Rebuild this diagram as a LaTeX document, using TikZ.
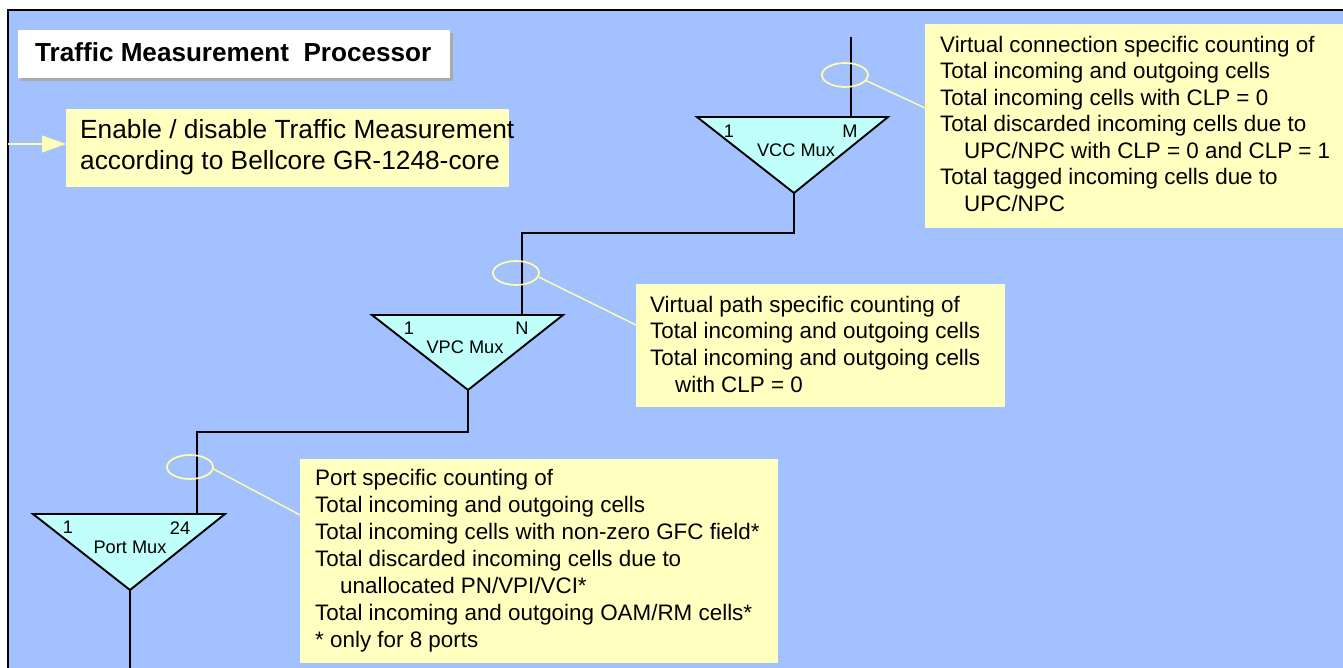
\documentclass[tikz,border=0pt]{standalone}
\usepackage{fontspec}
\setmainfont{Liberation Sans}
\usetikzlibrary{arrows.meta,shapes.geometric}
\definecolor{panelblue}{RGB}{164,193,255}
\definecolor{notefill}{RGB}{255,255,192}
\definecolor{muxfill}{RGB}{192,255,250}
\definecolor{callout}{RGB}{255,255,170}
\definecolor{shadowgray}{RGB}{170,170,170}
\tikzset{
  notebox/.style={fill=notefill, draw=none, anchor=north west, inner sep=0pt},
  notetext/.style={anchor=base west, inner sep=0pt, font=\fontsize{22.4}{26}\selectfont},
  bigtext/.style={anchor=base west, inner sep=0pt, font=\fontsize{26.3}{30}\selectfont},
  muxshape/.style={fill=muxfill, draw=black, line width=1.9pt, line join=miter},
  muxlabel/.style={inner sep=0pt, font=\fontsize{18.2}{20}\selectfont},
  wire/.style={draw=black, line width=1.9pt},
  ring/.style={draw=callout, line width=1.7pt},
  leader/.style={draw=callout, line width=1.4pt},
}
\begin{document}
\begin{tikzpicture}[x=1pt, y=-1pt]
\useasboundingbox (0,0) rectangle (1343,668);
% page and panel
\fill[white] (0,0) rectangle (1343,668);
\fill[panelblue] (8,10) rectangle (1343,668);
\draw[line width=2pt] (8,668) -- (8,10) -- (1343,10);

% title box with shadow
\fill[shadowgray] (21,33) rectangle (453,81);
\node[fill=white, anchor=north west, minimum width=432pt, minimum height=48pt, inner sep=0pt] (title) at (18,30) {};
\node[anchor=base west, inner sep=0pt, font=\fontsize{26.1}{30}\selectfont\bfseries] (titletext) at (35,62) {Traffic Measurement\ \ Processor};

% enable / disable note with incoming arrow
\node[notebox, minimum width=443pt, minimum height=78pt] (enable) at (66,109) {};
\node[bigtext] (en1) at (80,139) {Enable / disable Traffic Measurement};
\node[bigtext] (en2) at (80,170) {according to Bellcore GR-1248-core};
\coordinate (enin) at (8,144);
\draw[draw=callout, line width=1.4pt, -{Triangle[length=24pt, width=17pt, fill=notefill]}] (enin) -- (enable.west |- enin);

% multiplexers
\coordinate (vcc1) at (697,117); \coordinate (vcc2) at (888,117); \coordinate (vcca) at (794,193);
\coordinate (vpc1) at (372,315); \coordinate (vpc2) at (563,315); \coordinate (vpca) at (468,390);
\coordinate (prt1) at (33,514);  \coordinate (prt2) at (225,514); \coordinate (prta) at (130,590);
\draw[muxshape] (vcc1) -- (vcc2) -- (vcca) -- cycle;
\draw[muxshape] (vpc1) -- (vpc2) -- (vpca) -- cycle;
\draw[muxshape] (prt1) -- (prt2) -- (prta) -- cycle;

\node[muxlabel] (vccone) at (729,131) {1};
\node[muxlabel] (vccm) at (850,131) {M};
\node[muxlabel] (vccname) at (796,150) {VCC Mux};
\node[muxlabel] (vpcone) at (409,328) {1};
\node[muxlabel] (vpcn) at (522,328) {N};
\node[muxlabel] (vpcname) at (465,347) {VPC Mux};
\node[muxlabel] (prtone) at (68,527) {1};
\node[muxlabel] (prtn) at (180,528) {24};
\node[muxlabel] (prtname) at (130,547) {Port Mux};

% wiring between stages
\coordinate (vcctop) at (851,37);
\draw[wire] (vcctop) -- (851,117);
\draw[wire] (vcca) -- (794,233) -- (522,233) -- (522,315);
\draw[wire] (vpca) -- (468,432) -- (197,432) -- (197,514);
\coordinate (prtbot) at (130,668);
\draw[wire] (prta) -- (prtbot);

% note boxes
\node[notebox, minimum width=430pt, minimum height=204pt] (vccnote) at (925,24) {};
\node[notetext] (vc1) at (940,53) {Virtual connection specific counting of};
\node[notetext] (vc2) at (940,79) {Total incoming and outgoing cells};
\node[notetext] (vc3) at (940,106) {Total incoming cells with CLP = 0};
\node[notetext] (vc4) at (940,132) {Total discarded incoming cells due to};
\node[notetext] (vc5) at (964,159) {UPC/NPC with CLP = 0 and CLP = 1};
\node[notetext] (vc6) at (940,185) {Total tagged incoming cells due to};
\node[notetext] (vc7) at (964,212) {UPC/NPC};

\node[notebox, minimum width=369pt, minimum height=123pt] (vpcnote) at (636,284) {};
\node[notetext] (vp1) at (650,312) {Virtual path specific counting of};
\node[notetext] (vp2) at (650,338) {Total incoming and outgoing cells};
\node[notetext] (vp3) at (650,365) {Total incoming and outgoing cells};
\node[notetext] (vp4) at (675,392) {with CLP = 0};

\node[notebox, minimum width=478pt, minimum height=204pt] (prtnote) at (300,459) {};
\node[notetext] (pt1) at (315,485) {Port specific counting of};
\node[notetext] (pt2) at (315,512) {Total incoming and outgoing cells};
\node[notetext] (pt3) at (315,539) {Total incoming cells with non-zero GFC field*};
\node[notetext] (pt4) at (315,566) {Total discarded incoming cells due to};
\node[notetext] (pt5) at (340,593) {unallocated PN/VPI/VCI*};
\node[notetext] (pt6) at (315,620) {Total incoming and outgoing OAM/RM cells*};
\node[notetext] (pt7) at (315,647) {* only for 8 ports};

% callout rings and leaders
\node[ring, ellipse, minimum width=46pt, minimum height=24pt, inner sep=0pt] (vccring) at (845,75) {};
\node[ring, ellipse, minimum width=46pt, minimum height=24pt, inner sep=0pt] (vpcring) at (516,273) {};
\node[ring, ellipse, minimum width=46pt, minimum height=24pt, inner sep=0pt] (prtring) at (190,467) {};
\draw[leader] (vccring.-15) -- (vccnote.west |- 0,108);
\draw[leader] (vpcring.-10) -- (vpcnote.west |- 0,325);
\draw[leader] (prtring.-5) -- (prtnote.west |- 0,515);
\end{tikzpicture}
\end{document}
